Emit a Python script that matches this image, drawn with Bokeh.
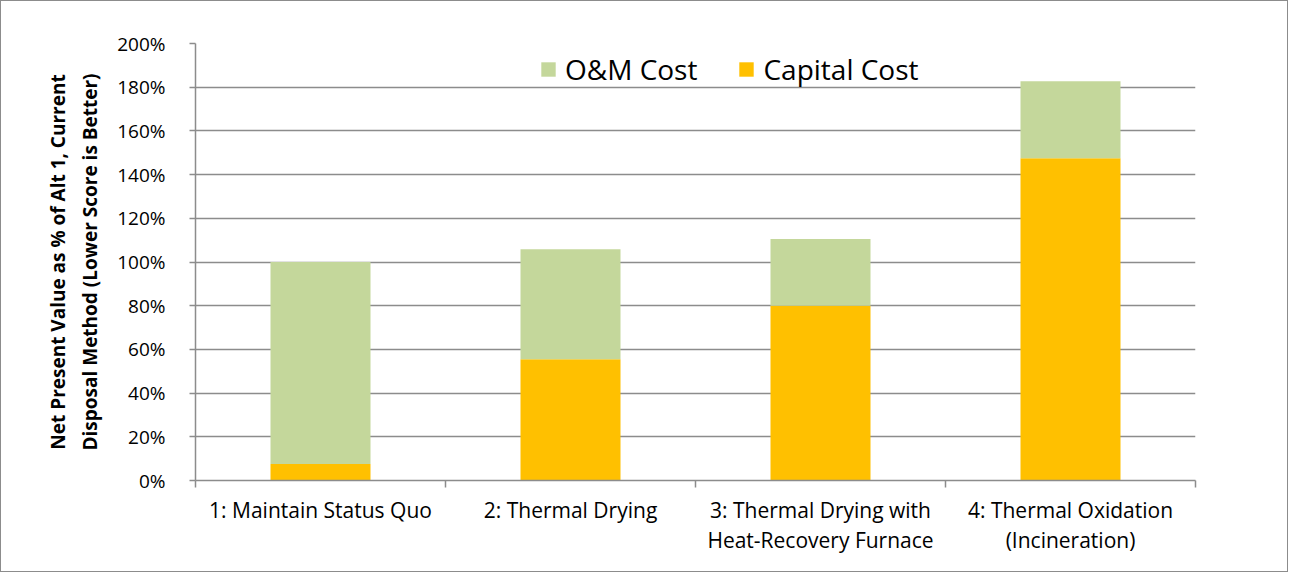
from bokeh.plotting import figure
from bokeh.models import (Range1d, FixedTicker, SingleIntervalTicker, NumeralTickFormatter,
                          Legend, LegendItem, ColumnDataSource)
from bokeh.embed import file_html
from bokeh.resources import INLINE

categories = ["1: Maintain Status Quo", "2: Thermal Drying",
              "3: Thermal Drying with\nHeat-Recovery Furnace",
              "4: Thermal Oxidation\n(Incineration)"]
capital_cost = [0.075, 0.555, 0.80, 1.475]
om_cost = [0.925, 0.503, 0.305, 0.352]
series_names = ["O&M Cost", "Capital Cost"]
y_label = "Net Present Value as % of Alt 1, Current\nDisposal Method (Lower Score is Better)"

GREEN = "#C4D79B"
ORANGE = "#FFC000"
GRID = "#8C8C8C"
FONT = "Open Sans"

n = len(categories)
centers = [i + 0.5 for i in range(n)]
bounds = [float(i) for i in range(n + 1)]

src = ColumnDataSource(dict(x=centers, capital=capital_cost, om=om_cost))

p = figure(width=1288, height=572, output_backend="svg", toolbar_location=None,
           x_range=Range1d(0, n), y_range=Range1d(0, 2.0),
           min_border_left=194, min_border_right=94, min_border_top=42, min_border_bottom=93)
p.styles = {"border": "1px solid #8C8C8C", "box-sizing": "border-box"}
p.outline_line_color = None
p.background_fill_color = "white"
p.border_fill_color = "white"

r = p.vbar_stack(["capital", "om"], x="x", width=0.4, source=src,
                 color=[ORANGE, GREEN], line_color=None)

# y axis
p.yaxis.ticker = SingleIntervalTicker(interval=0.2)
p.yaxis.formatter = NumeralTickFormatter(format="0%")
p.yaxis.axis_line_color = GRID
p.yaxis.axis_line_width = 1.5
p.yaxis.major_tick_line_color = GRID
p.yaxis.major_tick_line_width = 1.5
p.yaxis.major_tick_out = 6
p.yaxis.major_tick_in = 0
p.yaxis.minor_tick_line_color = None
p.yaxis.major_label_text_font = FONT
p.yaxis.major_label_text_font_size = "19px"
p.yaxis.major_label_text_color = "black"
p.yaxis.major_label_standoff = 24
p.yaxis.axis_label = y_label
p.yaxis.axis_label_text_font = FONT
p.yaxis.axis_label_text_font_style = "bold"
p.yaxis.axis_label_text_font_size = "19px"
p.yaxis.axis_label_text_line_height = 1.22
p.yaxis.axis_label_text_color = "black"
p.yaxis.axis_label_standoff = 11

# x axis
p.xaxis.ticker = FixedTicker(ticks=centers, minor_ticks=bounds)
p.xaxis.major_label_overrides = {c: lab for c, lab in zip(centers, categories)}
p.xaxis.axis_line_color = GRID
p.xaxis.axis_line_width = 1.5
p.xaxis.major_tick_line_color = None
p.xaxis.major_tick_out = 0
p.xaxis.major_tick_in = 0
p.xaxis.minor_tick_line_color = GRID
p.xaxis.minor_tick_line_width = 1.5
p.xaxis.minor_tick_out = 7
p.xaxis.minor_tick_in = 0
p.xaxis.major_label_text_font = FONT
p.xaxis.major_label_text_font_size = "21px"
p.xaxis.major_label_text_color = "black"
p.xaxis.major_label_text_line_height = 1.09
p.xaxis.major_label_standoff = 8

p.xgrid.grid_line_color = None
p.ygrid.ticker = SingleIntervalTicker(interval=0.2)
p.ygrid.grid_line_color = GRID
p.ygrid.grid_line_width = 1.5

legend = Legend(items=[LegendItem(label=series_names[0], renderers=[r[1]]),
                       LegendItem(label=series_names[1], renderers=[r[0]])],
                orientation="horizontal", location=(344, 392))
legend.label_text_font = FONT
legend.label_text_font_size = "28px"
legend.label_text_color = "black"
legend.glyph_width = 18
legend.glyph_height = 18
legend.label_standoff = 8
legend.spacing = 40
legend.padding = 0
legend.margin = 0
legend.border_line_color = None
legend.background_fill_alpha = 0
p.add_layout(legend)

open("out.html", "w").write(file_html(p, INLINE))
